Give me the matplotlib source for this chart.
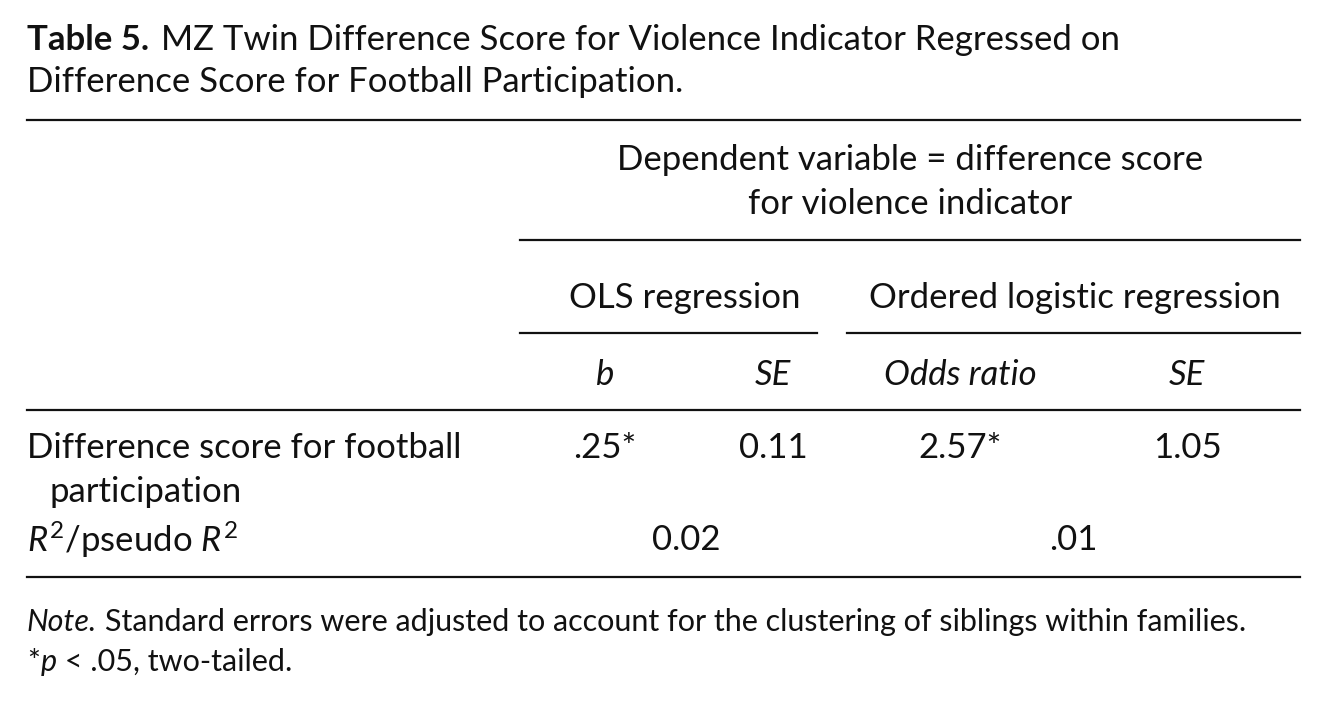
import matplotlib
matplotlib.use("Agg")
import matplotlib.pyplot as plt
from matplotlib.lines import Line2D

plt.rcParams['font.family'] = ['Lato', 'DejaVu Sans']
plt.rcParams['mathtext.fontset'] = 'custom'
plt.rcParams['mathtext.rm'] = 'Lato'
plt.rcParams['mathtext.it'] = 'Lato:italic'

W, H = 1326, 703
FS = 25
FS_NOTE = 22

title_bold = "Table 5."
title_rest = "MZ Twin Difference Score for Violence Indicator Regressed on"
title_line2 = "Difference Score for Football Participation."
spanner = ["Dependent variable = difference score", "for violence indicator"]
groups = ["OLS regression", "Ordered logistic regression"]
col_heads = ["b", "SE", "Odds ratio", "SE"]
row_label = ["Difference score for football", "participation"]
row_values = [".25*", "0.11", "2.57*", "1.05"]
r2_label = r"$\mathit{R}^2$/pseudo $\mathit{R}^2$"
r2_values = ["0.02", ".01"]
note_lead = "Note."
note_rest = "Standard errors were adjusted to account for the clustering of siblings within families."
note2_lead = "*"
note2_p = "p"
note2_rest = " < .05, two-tailed."

col_x = [605, 773, 960, 1187]
group_x = [685, 1075]
r2_x = [686, 1073]

fig = plt.figure(figsize=(W / 100, H / 100), dpi=100)
fig.patch.set_facecolor("white")


def T(x, y, s, ha="left", fs=FS, **kw):
    return fig.text(x / W, 1 - y / H, s, ha=ha, va="center", fontsize=fs, color="#111111", **kw)


def rule(x0, x1, y):
    fig.add_artist(Line2D([x0 / W, x1 / W], [1 - y / H, 1 - y / H], color="#111111", lw=1.6))


def after(t, gap):
    fig.canvas.draw()
    bb = t.get_window_extent()
    return bb.x1 + gap


# title
t = T(27, 40, title_bold, fontweight="bold")
T(after(t, 12), 40, title_rest)
T(27, 82, title_line2)

rule(27, 1300, 120)
T(910, 160, spanner[0], ha="center")
T(910, 204, spanner[1], ha="center")
rule(520, 1300, 240)

for gx, g in zip(group_x, groups):
    T(gx, 298, g, ha="center")
rule(520, 817, 333)
rule(847, 1300, 333)

for cx, h in zip(col_x, col_heads):
    T(cx, 375, h, ha="center", style="italic")
rule(27, 1300, 410)

T(27, 448, row_label[0])
T(50, 492, row_label[1])
for cx, v in zip(col_x, row_values):
    T(cx, 448, v, ha="center")

T(27, 540, r2_label)
for cx, v in zip(r2_x, r2_values):
    T(cx, 540, v, ha="center")
rule(27, 1300, 577)

t = T(27, 622, note_lead, fs=FS_NOTE, style="italic")
T(after(t, 8), 622, note_rest, fs=FS_NOTE)
t = T(27, 662, note2_lead, fs=FS_NOTE)
t = T(after(t, 1), 662, note2_p, fs=FS_NOTE, style="italic")
T(after(t, 0), 662, note2_rest, fs=FS_NOTE)

fig.savefig("out.png", dpi=100, facecolor="white")
